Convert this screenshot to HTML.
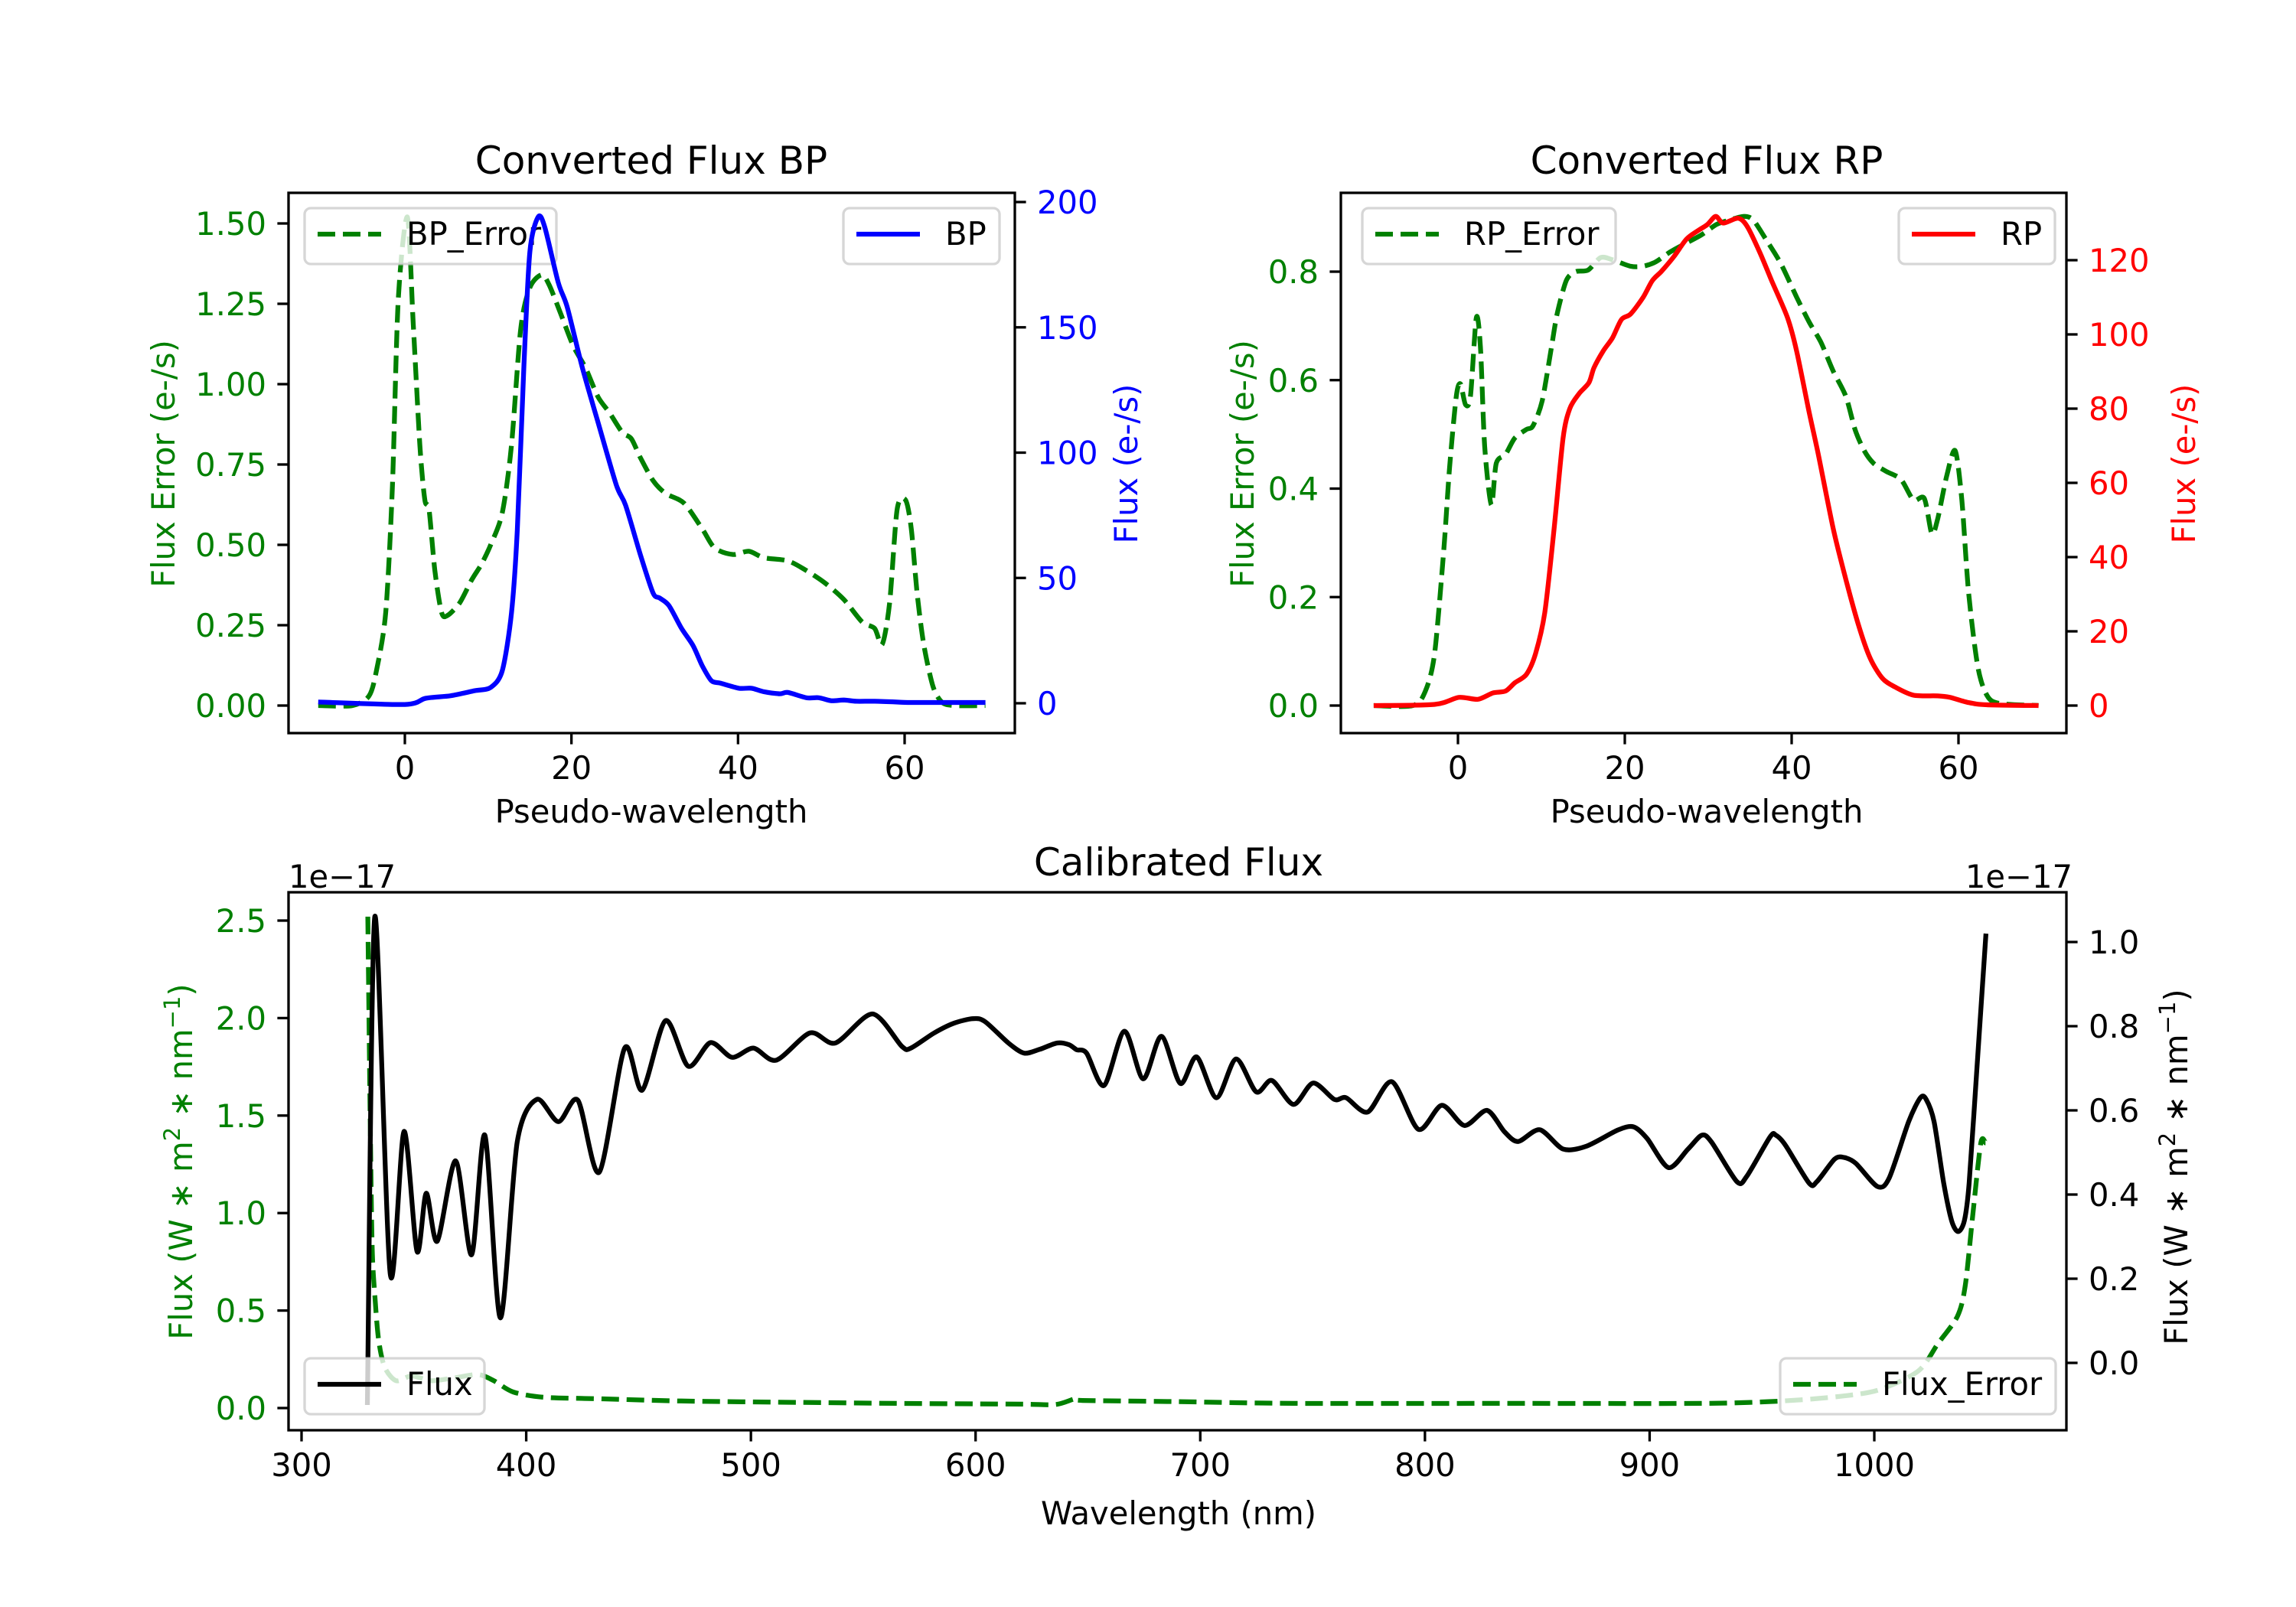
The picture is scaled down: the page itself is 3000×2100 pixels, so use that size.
<!DOCTYPE html>
<html><head><meta charset="utf-8">
<style>
html,body{margin:0;padding:0;background:#fff;}
svg{display:block;font-family:"DejaVu Sans","Liberation Sans",sans-serif;}
</style></head>
<body>
<svg id="fig" xmlns="http://www.w3.org/2000/svg" width="3000" height="2100" viewBox="0 0 3000 2100">
<rect x="0" y="0" width="3000" height="2100" fill="#fff"/>
</svg>
<script>
// ---- BP panel data ----
const bpX=[-10.4,0,2.5,5.5,8.4,10.3,11.7,12.8,13.5,14.3,15,16,16.8,18.4,19.5,21.3,23.2,25.4,26.5,28.3,29.8,30.6,31.7,33.2,34.6,35.7,36.8,37.9,40.1,41.6,43.1,45,46,48.2,49.7,51.2,52.7,54.2,56.4,59,60.8,69.7];
const bpFlux=[0.5,-0.5,2,3,5,6.3,13,36,69,135,180,194,190,168,158,134,112,87,79,59,44,42,39,30,23,15,9,8,6,6,4.6,3.8,4.3,2.2,2.2,1,1.3,0.8,0.8,0.5,0.3,0.3];
const bpErrX=[-10.4,-6.3,-4.3,-3.4,-2.3,-1.5,-0.8,0.3,1,1.8,2.4,2.9,3.6,4.4,5.1,6.6,8,9.2,10.3,11.7,12.8,13.9,15,16.4,17.3,18.7,20.2,21.7,23.2,24.6,26.1,27.2,28.3,29.8,31.3,33.5,35.7,37.2,39.4,41.3,43.1,46,48.2,50.5,52.7,54.9,56.4,57.3,58.2,59.1,60.1,60.8,61.5,62.3,63.4,64.5,66,69.7];
const bpErr=[0,0,0.03,0.11,0.29,0.68,1.26,1.52,1.19,0.81,0.64,0.61,0.42,0.29,0.28,0.32,0.39,0.44,0.5,0.6,0.81,1.17,1.3,1.34,1.31,1.22,1.12,1.05,0.96,0.91,0.85,0.83,0.77,0.7,0.66,0.63,0.55,0.49,0.47,0.48,0.46,0.45,0.42,0.38,0.33,0.26,0.24,0.19,0.32,0.61,0.64,0.55,0.35,0.19,0.06,0.01,0,0];
const bpXTicks=[0,20,40,60];
const bpErrTicks=["0.00","0.25","0.50","0.75","1.00","1.25","1.50"];
const bpFluxTicks=["0","50","100","150","200"];
// ---- RP panel data ----
const rpX=[-10.1,-2.8,0.1,2.4,4.2,5.7,6.8,8.2,9.3,10.4,11.5,12.6,13.4,14.5,15.7,16.3,17.4,18.5,19.6,20.7,22.2,23.3,24.4,25.9,27.4,28.8,29.9,30.9,31.8,33.6,34.7,36.2,37.6,39.5,40.6,42.1,43.2,45,46.5,48,49.4,50.9,52.4,54.6,57.5,59,61.2,63.4,69.6];
const rpFlux=[0,0.3,2.2,1.7,3.4,3.9,6.1,8.4,14,25,47,72,80,84,87,91,95.5,99,104,105.5,110,114.5,117,121,125.7,128,129.6,131.8,130,131.3,129,122,114.5,104.5,95.5,79,67.6,47.5,34,21.8,12.8,7.3,5,2.8,2.6,2.2,0.8,0.2,0];
const rpErrX=[-10.1,-5.4,-3.9,-2.8,-1.7,-1,-0.2,0.3,0.9,1.5,2.2,2.7,3.2,4,4.6,5.7,6.8,8.2,9,10.1,11.2,11.9,13,14.1,15.6,17.1,18.5,20.7,22.2,23.7,25.5,27.4,29.2,31,32.5,34.3,35.4,36.9,38.7,40.6,42.1,43.5,45,46.5,47.6,48.7,49.8,51.3,53.1,54.6,55.9,56.8,57.5,58.6,59.6,60.4,61.2,62.3,63.4,64.9,69.6];
const rpErr=[0,0,0.027,0.096,0.287,0.44,0.57,0.593,0.555,0.57,0.715,0.66,0.478,0.37,0.447,0.463,0.493,0.509,0.516,0.562,0.66,0.723,0.784,0.8,0.803,0.826,0.822,0.81,0.81,0.818,0.837,0.853,0.868,0.887,0.895,0.902,0.895,0.86,0.815,0.753,0.707,0.67,0.616,0.57,0.509,0.47,0.447,0.432,0.417,0.379,0.382,0.317,0.344,0.424,0.47,0.379,0.21,0.073,0.019,0.004,0];
const rpXTicks=[0,20,40,60];
const rpErrTicks=["0.0","0.2","0.4","0.6","0.8"];
const rpFluxTicks=["0","20","40","60","80","100","120"];
// ---- Calibrated panel data (units of 1e-17) ----
const calWl=[329.3,332.6,339.5,345.6,351.4,355.5,360.4,368.6,375.7,381.6,388.5,396,404.7,414.3,423,432.5,443.8,451.6,462,472.1,482,491.6,501.1,511.2,526.3,537.6,554.1,567.2,571.2,581.6,590.3,599,604.2,614.6,621.6,628.5,636.3,641.6,645,649.4,657.2,666.2,674.6,682.7,691.1,698.4,707.2,715.9,724.9,731.9,741.5,750.2,759.7,764.9,774.5,785.3,797.1,807.5,817.6,827.6,835.4,841.5,851.1,861.5,871.9,885.8,892.8,898.9,908.4,917.1,923.2,927.5,938.8,943.2,953.6,956.2,960.5,971,974.5,982.3,986.6,991.8,1001.4,1006.6,1015.3,1020.5,1023.1,1026.6,1030.9,1034.4,1037.3,1040.1,1042.2,1045.7,1049.7];
const calFlux=[-0.1,1.06,0.21,0.55,0.265,0.403,0.289,0.48,0.257,0.541,0.107,0.525,0.626,0.573,0.624,0.453,0.748,0.648,0.813,0.705,0.761,0.726,0.748,0.719,0.784,0.76,0.829,0.752,0.748,0.784,0.807,0.818,0.811,0.76,0.736,0.745,0.76,0.756,0.744,0.736,0.659,0.788,0.675,0.776,0.664,0.727,0.63,0.722,0.644,0.671,0.614,0.665,0.626,0.63,0.596,0.668,0.555,0.612,0.564,0.6,0.549,0.526,0.554,0.508,0.515,0.553,0.561,0.533,0.464,0.508,0.541,0.525,0.431,0.443,0.537,0.541,0.517,0.427,0.431,0.484,0.488,0.474,0.419,0.439,0.573,0.63,0.626,0.573,0.427,0.338,0.312,0.338,0.427,0.703,1.02];
const errWl=[329.5,330.5,331.4,332.6,334.3,337,342.1,349.1,357.8,368.2,378.6,385.6,394.3,408.2,434.2,469,521,564.6,619.8,635.5,644.2,647.6,689.3,741.5,838.8,924,958.8,984.9,1002.3,1019.6,1028.3,1037,1040.5,1044,1047.4,1049.5];
const calErr=[2.52,1.54,0.84,0.58,0.35,0.21,0.14,0.165,0.14,0.155,0.172,0.14,0.082,0.055,0.047,0.036,0.029,0.024,0.02,0.018,0.047,0.039,0.033,0.024,0.024,0.024,0.036,0.06,0.094,0.19,0.33,0.47,0.63,1.01,1.36,1.36];
const calXTicks=[300,400,500,600,700,800,900,1000];
const calErrTicks=["0.0","0.5","1.0","1.5","2.0","2.5"];
const calFluxTicks=["0.0","0.2","0.4","0.6","0.8","1.0"];

const NS="http://www.w3.org/2000/svg";
const svg=document.getElementById('fig');
const G="#008000";
function lin(d0,p0,d1,p1){return v=>p0+(v-d0)*(p1-p0)/(d1-d0);}
function mk(tag,attrs,parent){const e=document.createElementNS(NS,tag);for(const k in attrs)e.setAttribute(k,attrs[k]);(parent||svg).appendChild(e);return e;}
function pathD(xs,ys,fx,fy){
  const P=xs.map((x,i)=>[fx(x),fy(ys[i])]);
  let d='M'+P[0][0].toFixed(1)+','+P[0][1].toFixed(1);
  const t=0.14;
  for(let i=0;i<P.length-1;i++){
    const p0=P[i-1]||P[i],p1=P[i],p2=P[i+1],p3=P[i+2]||P[i+1];
    const c1=[p1[0]+(p2[0]-p0[0])*t,p1[1]+(p2[1]-p0[1])*t];
    const c2=[p2[0]-(p3[0]-p1[0])*t,p2[1]-(p3[1]-p1[1])*t];
    d+='C'+c1[0].toFixed(1)+','+c1[1].toFixed(1)+' '+c2[0].toFixed(1)+','+c2[1].toFixed(1)+' '+p2[0].toFixed(1)+','+p2[1].toFixed(1);
  }
  return d;
}
function txt(s,attrs){const t=mk('text',attrs);t.textContent=s;return t;}

function frame(x0,x1,y0,y1,name){
  const r=mk('rect',{x:x0,y:y0,width:x1-x0,height:y1-y0,fill:'none',stroke:'#000','stroke-width':3.3});
  
  
}
function xticks(vals,fx,y1,name){
  vals.forEach(v=>{
    const x=fx(v);
    const l=mk('line',{x1:x,x2:x,y1:y1,y2:y1+14.6,stroke:'#000','stroke-width':3.3});
    
    
    const t=txt(String(v),{x:x,y:y1+60,'font-size':41.7,'text-anchor':'middle',fill:'#000'});
    
    
  });
}
function yticks(labels,fy,xEdge,side,color,name){
  labels.forEach(s=>{
    const y=fy(parseFloat(s));
    const dx=side==='left'?-14.6:14.6;
    const l=mk('line',{x1:xEdge,x2:xEdge+dx,y1:y,y2:y,stroke:'#000','stroke-width':3.3});
    
    
    const t=txt(s,{x:side==='left'?xEdge-29:xEdge+29,y:y+15,'font-size':41.7,'text-anchor':side==='left'?'end':'start',fill:color});
    
    
  });
}
function line(xs,ys,fx,fy,color,dashed,name){
  const p=mk('path',{d:pathD(xs,ys,fx,fy),fill:'none',stroke:color,'stroke-width':6.25,'stroke-linejoin':'round','stroke-dasharray':dashed?'23 10':'none'});
  
  
}
function legend(x,y,w,label,color,dashed,name){
  const g=mk('g',{});
  
  
  mk('rect',{x:x,y:y,width:w,height:73,rx:8,fill:'rgba(255,255,255,0.8)',stroke:'rgba(204,204,204,0.8)','stroke-width':3.3},g);
  mk('line',{x1:x+17,x2:x+100,y1:y+34,y2:y+34,stroke:color,'stroke-width':6.25,'stroke-dasharray':dashed?'23 10':'none'},g);
  const t=mk('text',{x:x+133,y:y+48,'font-size':41.7,fill:'#000'},g);
  t.textContent=label;
}
function title(s,x,y,name){
  const t=txt(s,{x:x,y:y,'font-size':50,'text-anchor':'middle',fill:'#000'});
  
  
}
function ylab(s,x,y,color,name){
  const t=txt(s,{x:0,y:0,'font-size':41.7,'text-anchor':'middle',fill:color,transform:`translate(${x},${y}) rotate(-90)`});
  
  
  return t;
}

// ===== BP panel =====
{
  const x0=377,x1=1326,y0=252,y1=958;
  const fx=lin(0,529,60,1182), fyl=lin(0,922,1.5,292), fyr=lin(0,919,200,264);
  line(bpErrX,bpErr,fx,fyl,G,true,'bp-error-line');
  legend(398,272,329,'BP_Error',G,true,'bp-error-legend');
  line(bpX,bpFlux,fx,fyr,'#0000ff',false,'bp-flux-line');
  legend(1102,272,204,'BP','#0000ff',false,'bp-legend');
  frame(x0,x1,y0,y1,'bp-axes-frame');
  xticks(bpXTicks,fx,y1,'bp-x');
  yticks(bpErrTicks,fyl,x0,'left',G,'bp-error-y');
  yticks(bpFluxTicks,fyr,x1,'right','#0000ff','bp-flux-y');
  title('Converted Flux BP',851,227,'bp-title');
  const xl=txt('Pseudo-wavelength',{x:851,y:1075,'font-size':41.7,'text-anchor':'middle',fill:'#000'});
  
  
  ylab('Flux Error (e-/s)',228,606,G,'bp-error-y-axis-title');
  ylab('Flux (e-/s)',1486,606,'#0000ff','bp-flux-y-axis-title');
}
// ===== RP panel =====
{
  const x0=1752,x1=2700,y0=252,y1=958;
  const fx=lin(0,1905,60,2559), fyl=lin(0,922,0.8,355), fyr=lin(0,922,120,340);
  line(rpErrX,rpErr,fx,fyl,G,true,'rp-error-line');
  legend(1780,272,331,'RP_Error',G,true,'rp-error-legend');
  line(rpX,rpFlux,fx,fyr,'#ff0000',false,'rp-flux-line');
  legend(2481,272,204,'RP','#ff0000',false,'rp-legend');
  frame(x0,x1,y0,y1,'rp-axes-frame');
  xticks(rpXTicks,fx,y1,'rp-x');
  yticks(rpErrTicks,fyl,x0,'left',G,'rp-error-y');
  yticks(rpFluxTicks,fyr,x1,'right','#ff0000','rp-flux-y');
  title('Converted Flux RP',2230,227,'rp-title');
  const xl=txt('Pseudo-wavelength',{x:2230,y:1075,'font-size':41.7,'text-anchor':'middle',fill:'#000'});
  
  
  ylab('Flux Error (e-/s)',1638,606,G,'rp-error-y-axis-title');
  ylab('Flux (e-/s)',2868,606,'#ff0000','rp-flux-y-axis-title');
}
// ===== Calibrated panel =====
{
  const x0=377,x1=2700,y0=1166,y1=1869;
  const fx=lin(300,394,1000,2449), fyl=lin(0,1840,2.5,1203), fyr=lin(0,1781,1,1231);
  line(errWl,calErr,fx,fyl,G,true,'cal-flux-error-line');
  line(calWl,calFlux,fx,fyr,'#000',false,'cal-flux-line');
  legend(398,1775,235,'Flux','#000',false,'cal-flux-legend');
  legend(2326,1775,360,'Flux_Error',G,true,'cal-flux-error-legend');
  frame(x0,x1,y0,y1,'cal-axes-frame');
  xticks(calXTicks,fx,y1,'cal-x');
  yticks(calErrTicks,fyl,x0,'left',G,'cal-error-y');
  yticks(calFluxTicks,fyr,x1,'right','#000','cal-flux-y');
  title('Calibrated Flux',1540,1144,'cal-title');
  const o1=txt('1e\u221217',{x:377,y:1160,'font-size':41.7,'text-anchor':'start',fill:'#000'});
  
  
  const o2=txt('1e\u221217',{x:2708,y:1160,'font-size':41.7,'text-anchor':'end',fill:'#000'});
  
  
  const xl=txt('Wavelength (nm)',{x:1540,y:1992,'font-size':41.7,'text-anchor':'middle',fill:'#000'});
  
  
  [[251,1518,G,'cal-error-y-axis-title'],[2858,1525,'#000','cal-flux-y-axis-title']].forEach(a=>{
    const t=ylab('',a[0],a[1],a[2],a[3]);
    const parts=[['Flux (W \u2217 m',0],['2',1],[' \u2217 nm',0],['\u22121',1],[')',0]];
    parts.forEach(p=>{
      const s=document.createElementNS(NS,'tspan');
      if(p[1]){s.setAttribute('font-size','29');s.setAttribute('dy','-16');}
      else if(t.childNodes.length){s.setAttribute('dy','16');}
      s.textContent=p[0];
      t.appendChild(s);
    });
  });
}
</script>
</body></html>
